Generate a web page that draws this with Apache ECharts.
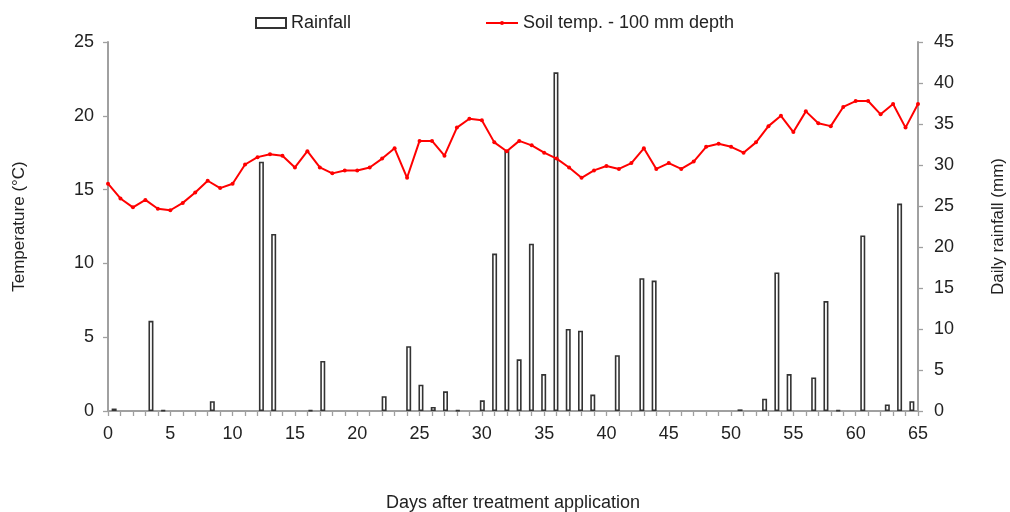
<!DOCTYPE html>
<html>
<head>
<meta charset="utf-8">
<script src="https://cdn.jsdelivr.net/npm/echarts@6/dist/echarts.min.js"></script>
<style>html,body{margin:0;padding:0;background:#fff}#c{width:1010px;height:512px}</style>
</head>
<body>
<div id="c"></div>
<script>
// Day numbers (categories for rainfall bars; x positions for temperature)
const days = [0,1,2,3,4,5,6,7,8,9,10,11,12,13,14,15,16,17,18,19,20,21,22,23,24,25,26,27,28,29,30,31,32,33,34,35,36,37,38,39,40,41,42,43,44,45,46,47,48,49,50,51,52,53,54,55,56,57,58,59,60,61,62,63,64,65];
// Daily rainfall (mm)
const rainfall = [0.3,0,0,11.0,0.1,0,0,0,1.2,0,0,0,30.4,21.6,0,0,0.1,6.1,0,0,0,0,1.8,0,7.9,3.2,0.5,2.4,0.1,0,1.3,19.2,31.8,6.3,20.4,4.5,41.3,10.0,9.8,2.0,0,6.8,0,16.2,15.9,0,0,0,0,0,0,0.2,0,1.5,16.9,4.5,0,4.1,13.4,0.1,0,21.4,0,0.8,25.3,1.2];
// Soil temperature at 100 mm depth (°C)
const soilTemp = [15.4,14.4,13.8,14.3,13.7,13.6,14.1,14.8,15.6,15.1,15.4,16.7,17.2,17.4,17.3,16.5,17.6,16.5,16.1,16.3,16.3,16.5,17.1,17.8,15.8,18.3,18.3,17.3,19.2,19.8,19.7,18.2,17.6,18.3,18.0,17.5,17.1,16.5,15.8,16.3,16.6,16.4,16.8,17.8,16.4,16.8,16.4,16.9,17.9,18.1,17.9,17.5,18.2,19.3,20.0,18.9,20.3,19.5,19.3,20.6,21.0,21.0,20.1,20.8,19.2,20.8];
const leftTicks = {min: 0, max: 25, interval: 5};
const rightTicks = {min: 0, max: 45, interval: 5};
const xTicks = {min: 0, max: 65, interval: 1, labelEvery: 5};

const axisGrey = '#a0a0a0';
const labelColor = '#222';
const font = 'Liberation Sans, Arial, sans-serif';

const chart = echarts.init(document.getElementById('c'), null, {renderer: 'canvas'});
chart.setOption({
  animation: false,
  backgroundColor: '#fff',
  textStyle: {fontFamily: font},
  grid: {left: 108, right: 92, top: 42, bottom: 101, containLabel: false, outerBoundsMode: 'none'},
  legend: [{
    left: 250, top: 9, padding: 5,
    itemWidth: 30, itemHeight: 10,
    textStyle: {fontSize: 18, color: labelColor, fontFamily: font},
    data: [{name: 'Rainfall', icon: 'rect'}]
  }, {
    left: 480, top: 9, padding: 5,
    itemWidth: 32, itemHeight: 5,
    textStyle: {fontSize: 18, color: labelColor, fontFamily: font},
    data: [{name: 'Soil temp. - 100 mm depth'}]
  }],
  xAxis: [{
    type: 'value', min: xTicks.min, max: xTicks.max, interval: xTicks.interval,
    position: 'bottom',
    name: 'Days after treatment application', nameLocation: 'middle', nameGap: 83,
    nameTextStyle: {fontSize: 18, color: labelColor, fontFamily: font},
    axisLine: {show: true, lineStyle: {color: axisGrey, width: 2}},
    axisTick: {show: true, length: 5, lineStyle: {color: axisGrey, width: 1.3}},
    axisLabel: {fontSize: 18, color: labelColor, margin: 14, fontFamily: font,
      formatter: v => (v % xTicks.labelEvery === 0 ? String(v) : '')},
    splitLine: {show: false}
  }, {
    type: 'category', data: days, position: 'bottom', boundaryGap: true,
    show: false
  }],
  yAxis: [{
    type: 'value', min: leftTicks.min, max: leftTicks.max, interval: leftTicks.interval,
    position: 'left',
    name: 'Temperature (°C)', nameLocation: 'middle', nameGap: 80, nameRotate: 90,
    nameTextStyle: {fontSize: 17, color: labelColor, fontFamily: font},
    axisLine: {show: true, lineStyle: {color: axisGrey, width: 2}},
    axisTick: {show: true, length: 5, lineStyle: {color: axisGrey, width: 1.3}},
    axisLabel: {fontSize: 18, color: labelColor, margin: 14, fontFamily: font},
    splitLine: {show: false}
  }, {
    type: 'value', min: rightTicks.min, max: rightTicks.max, interval: rightTicks.interval,
    position: 'right',
    name: 'Daily rainfall (mm)', nameLocation: 'middle', nameGap: 72, nameRotate: 90,
    nameTextStyle: {fontSize: 17, color: labelColor, fontFamily: font},
    axisLine: {show: true, lineStyle: {color: axisGrey, width: 2}},
    axisTick: {show: true, length: 5, lineStyle: {color: axisGrey, width: 1.3}},
    axisLabel: {fontSize: 18, color: labelColor, margin: 16, fontFamily: font},
    splitLine: {show: false}
  }],
  series: [{
    name: 'Rainfall', type: 'bar', xAxisIndex: 1, yAxisIndex: 1,
    data: rainfall.map(v => (v === 0 ? null : v)),
    barWidth: 5,
    itemStyle: {color: '#ffffff', borderColor: '#333', borderWidth: 1.6},
    z: 2
  }, {
    name: 'Soil temp. - 100 mm depth', type: 'line', xAxisIndex: 0, yAxisIndex: 0,
    data: days.map((d, i) => [d, soilTemp[i]]),
    symbol: 'circle', symbolSize: 4,
    lineStyle: {color: '#ff0000', width: 2},
    itemStyle: {color: '#ff0000'},
    z: 5
  }]
});
</script>
</body>
</html>
